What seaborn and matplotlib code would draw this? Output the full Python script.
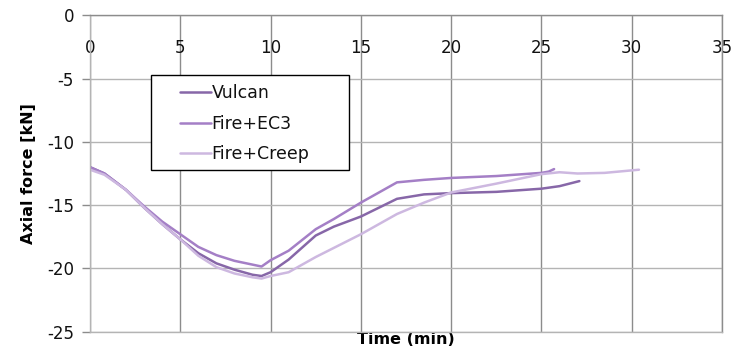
import pandas as pd
import matplotlib.pyplot as plt
import seaborn as sns
from matplotlib.patches import Rectangle

# values
t_vulcan = [0, 0.8, 2, 3, 4, 5, 6, 7, 8, 9, 9.5, 10, 11, 12.5, 13.5, 15, 17, 18.5, 20, 22.5, 25, 26, 27.1]
f_vulcan = [-12.0, -12.5, -13.8, -15.2, -16.5, -17.7, -18.8, -19.6, -20.1, -20.5, -20.6, -20.3, -19.3, -17.4, -16.7,
            -15.9, -14.5, -14.15, -14.05, -13.95, -13.7, -13.5, -13.1]

t_ec3 = [0, 0.8, 2, 3, 4, 5, 6, 7, 8, 9, 9.5, 10, 11, 12.5, 13.5, 15, 17, 18.5, 20, 22.5, 25, 25.4, 25.7]
f_ec3 = [-12.0, -12.5, -13.8, -15.1, -16.3, -17.3, -18.3, -18.95, -19.4, -19.7, -19.85, -19.35, -18.6, -16.9, -16.1,
         -14.8, -13.2, -13.0, -12.85, -12.7, -12.45, -12.35, -12.15]

t_creep = [0, 0.8, 2, 3, 4, 5, 6, 7, 8, 9, 9.5, 10, 11, 12.5, 15, 17, 18.5, 20, 22.5, 25, 26, 27, 28.5, 30.4]
f_creep = [-12.2, -12.6, -13.8, -15.2, -16.5, -17.7, -19.0, -19.9, -20.4, -20.7, -20.8, -20.6, -20.3, -19.1,
           -17.3, -15.7, -14.8, -14.0, -13.3, -12.55, -12.4, -12.5, -12.45, -12.2]

series = ['Vulcan', 'Fire+EC3', 'Fire+Creep']
colors = ['#8767a8', '#a47fc6', '#cdb8e0']
x_ticks = [0, 5, 10, 15, 20, 25, 30, 35]
y_ticks = [0, -5, -10, -15, -20, -25]

df = pd.concat([
    pd.DataFrame({'Time': t_vulcan, 'Force': f_vulcan, 'Model': series[0]}),
    pd.DataFrame({'Time': t_ec3, 'Force': f_ec3, 'Model': series[1]}),
    pd.DataFrame({'Time': t_creep, 'Force': f_creep, 'Model': series[2]}),
])

sns.set_style('white')
plt.rcParams['axes.unicode_minus'] = False
plt.rcParams['font.family'] = ['DejaVu Sans']

fig = plt.figure(figsize=(7.36, 3.62), dpi=100)
ax = fig.add_axes([0.1223, 0.0837, 0.8587, 0.874])

sns.lineplot(data=df, x='Time', y='Force', hue='Model', hue_order=series,
             palette=colors, sort=False, estimator=None, linewidth=1.8, ax=ax)

ax.set_xlim(0, 35)
ax.set_ylim(-25, 0)
ax.set_xticks(x_ticks)
ax.set_yticks(y_ticks)
ax.set_xticklabels([str(v) for v in x_ticks])
ax.set_yticklabels([str(v) for v in y_ticks])

# x labels sit under the top line, inside the plot
ax.xaxis.set_ticks_position('top')
ax.tick_params(axis='x', length=0, pad=-30, labelsize=12, colors='#111111')
ax.tick_params(axis='y', length=5.5, width=1, color='#8c8c8c', pad=6, labelsize=12, labelcolor='#111111', left=True)

ax.grid(True, axis='x', color='#8c8c8c', linewidth=1)
ax.grid(True, axis='y', color='#b4b4b4', linewidth=1)
for side in ['top', 'right']:
    ax.spines[side].set_color('#8c8c8c')
for side in ['left', 'bottom']:
    ax.spines[side].set_color('#b4b4b4')
for s in ax.spines.values():
    s.set_linewidth(1)

ax.set_xlabel('Time (min)', fontsize=11.5, fontweight='bold', labelpad=0, color='black')
ax.xaxis.set_label_position('bottom')
ax.set_ylabel('Axial force [kN]', fontsize=11.5, fontweight='bold', labelpad=8, color='black')

# legend box
ax.add_patch(Rectangle((0.0965, 0.512), 0.3125, 0.299, transform=ax.transAxes,
                       facecolor='white', edgecolor='black', linewidth=1, zorder=5))
handles, labels = ax.get_legend_handles_labels()
leg = ax.legend(handles, labels, loc='upper left', bbox_to_anchor=(0.143, 0.782), frameon=False,
                borderpad=0, borderaxespad=0, handlelength=1.75, handletextpad=0.05,
                labelspacing=0.72, fontsize=12.5, labelcolor='#111111')
leg.set_zorder(6)

fig.savefig('out.png', dpi=100)
